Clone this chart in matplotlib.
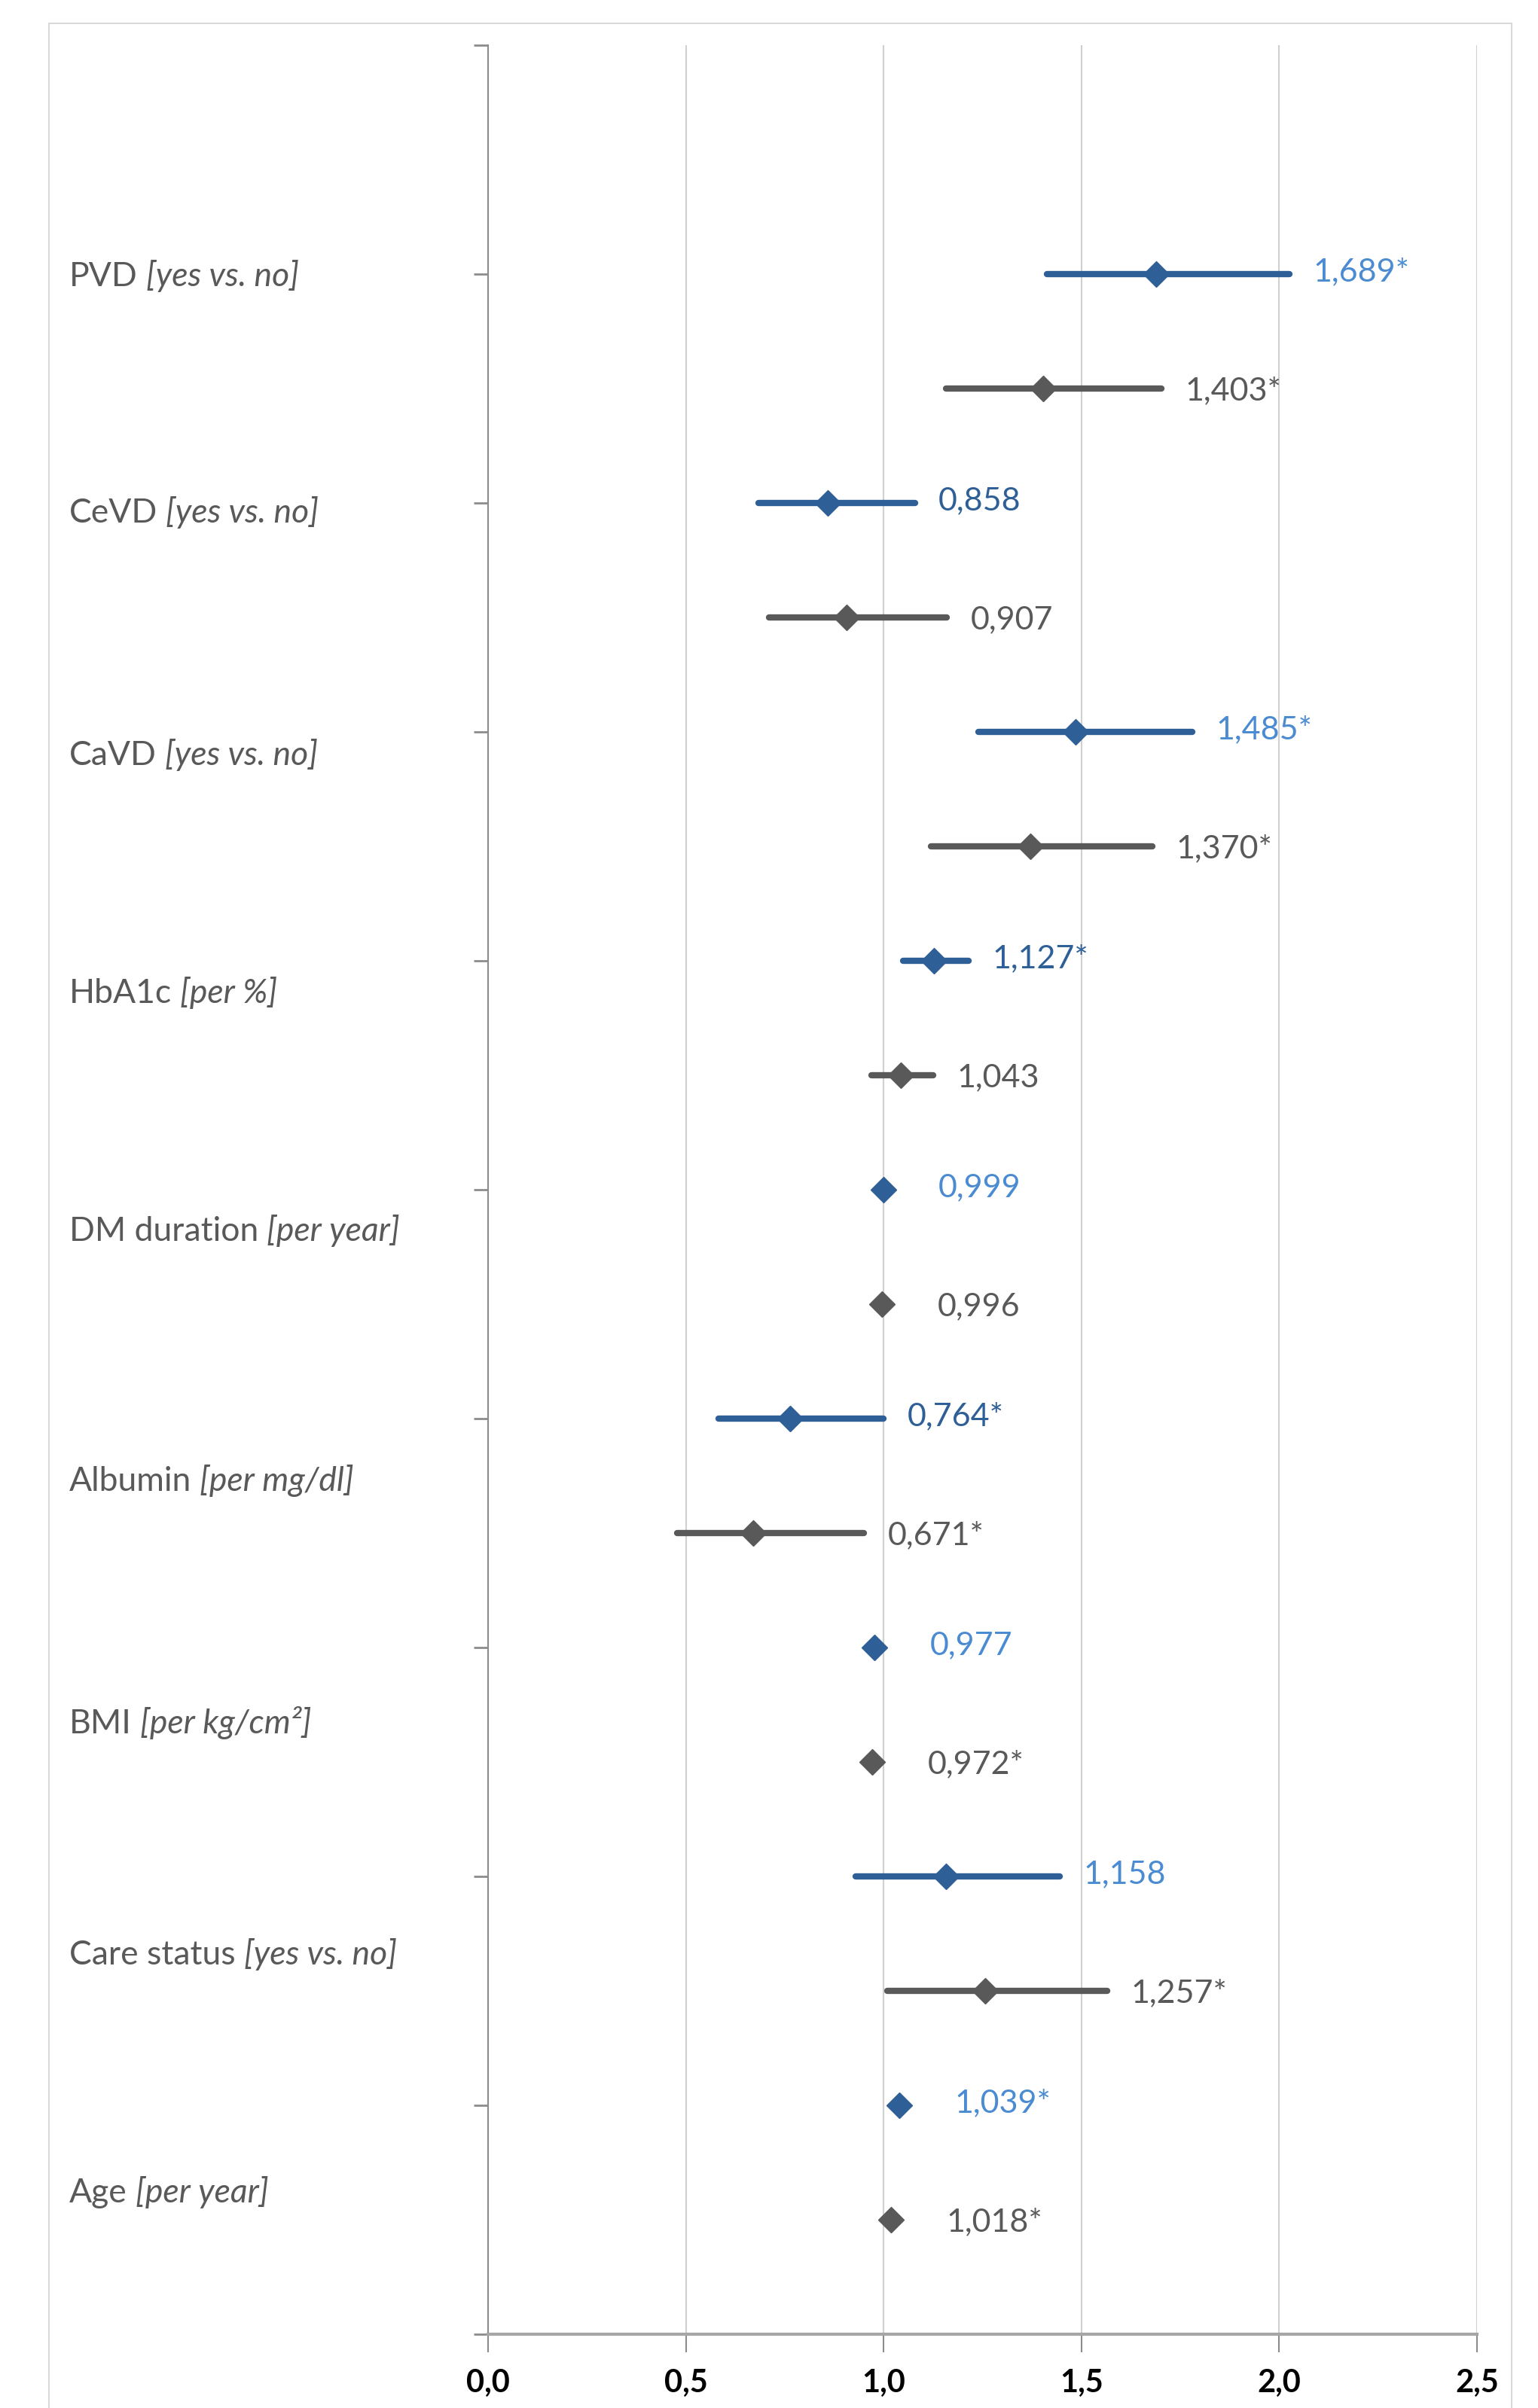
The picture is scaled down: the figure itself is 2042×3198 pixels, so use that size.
import numpy as np
import matplotlib.pyplot as plt
from matplotlib.patches import Rectangle
from matplotlib.transforms import blended_transform_factory

plt.rcParams['font.family'] = ['Lato', 'DejaVu Sans']

# categories, top to bottom
names = ['PVD', 'CeVD', 'CaVD', 'HbA1c', 'DM duration', 'Albumin', 'BMI', 'Care status', 'Age']
units = ['[yes vs. no]', '[yes vs. no]', '[yes vs. no]', '[per %]', '[per year]',
         '[per mg/dl]', '[per kg/cm²]', '[yes vs. no]', '[per year]']
label_y = [9.0, 7.97, 6.91, 5.87, 4.83, 3.74, 2.68, 1.67, 0.63]

# first series (blue)
blue_val = [1.689, 0.858, 1.485, 1.127, 0.999, 0.764, 0.977, 1.158, 1.039]
blue_lo = [1.412, 0.683, 1.240, 1.050, 0.998, 0.582, 0.965, 0.930, 1.030]
blue_hi = [2.025, 1.079, 1.780, 1.215, 1.000, 1.000, 0.990, 1.445, 1.048]
blue_txt = ['1,689*', '0,858', '1,485*', '1,127*', '0,999', '0,764*', '0,977', '1,158', '1,039*']
blue_dark = [False, True, False, True, False, True, False, False, False]

# second series (grey)
grey_val = [1.403, 0.907, 1.370, 1.043, 0.996, 0.671, 0.972, 1.257, 1.018]
grey_lo = [1.157, 0.710, 1.120, 0.970, 0.994, 0.477, 0.960, 1.010, 1.010]
grey_hi = [1.702, 1.160, 1.680, 1.125, 0.998, 0.951, 0.985, 1.565, 1.025]
grey_txt = ['1,403*', '0,907', '1,370*', '1,043', '0,996', '0,671*', '0,972*', '1,257*', '1,018*']

xticks = [0.0, 0.5, 1.0, 1.5, 2.0, 2.5]

blue = '#2E5F97'
blue_light = '#4A8BD2'
grey = '#595959'

W, H = 2042, 3198
fig = plt.figure(figsize=(W / 100, H / 100), dpi=100)
fig.patches.append(Rectangle((65 / W, -0.05), (2007 - 65) / W, 1.05 - 31 / H,
                             transform=fig.transFigure, fill=False,
                             edgecolor='#D9D9D9', linewidth=1.5))

ax = fig.add_axes([648 / W, 1 - 3100 / H, (1961 - 648) / W, (3100 - 60) / H])

n = len(names)
yb = np.arange(n, 0, -1).astype(float)
yg = yb - 0.5

ax.hlines(yb, blue_lo, blue_hi, color=blue, linewidth=6, capstyle='round', zorder=3)
ax.hlines(yg, grey_lo, grey_hi, color=grey, linewidth=6, capstyle='round', zorder=3)
ax.plot(blue_val, yb, 'D', color=blue, markersize=17, linestyle='none', zorder=4)
ax.plot(grey_val, yg, 'D', color=grey, markersize=17, linestyle='none', zorder=4)

for i in range(n):
    c = blue if blue_dark[i] else blue_light
    ax.text(max(blue_hi[i] + 0.06, blue_val[i] + 0.14), yb[i] + 0.02, blue_txt[i],
            color=c, fontsize=31, va='center_baseline', ha='left')
    ax.text(max(grey_hi[i] + 0.06, grey_val[i] + 0.14), yg[i], grey_txt[i],
            color=grey, fontsize=31, va='center_baseline', ha='left')

trans = blended_transform_factory(fig.transFigure, ax.transData)
for i in range(n):
    t = ax.text(92 / W, label_y[i], names[i], transform=trans, fontsize=32,
                color=grey, va='center_baseline', ha='left')
    ax.annotate(units[i], xy=(1, 0), xycoords=t, xytext=(8, 0),
                textcoords='offset points', fontsize=32, color=grey,
                style='italic', va='bottom', ha='left')

ax.set_xlim(0, 2.5)
ax.set_ylim(0, 10)
ax.set_xticks(xticks)
ax.set_xticklabels([f'{v:.1f}'.replace('.', ',') for v in xticks],
                   fontsize=30, fontweight='bold', color='black')
ax.set_yticks(np.arange(0, 11))
ax.set_yticklabels([])
ax.grid(axis='x', color='#D0D0D0', linewidth=1.5, zorder=0)
ax.set_axisbelow(True)

for s in ['top', 'right']:
    ax.spines[s].set_visible(False)
ax.spines['left'].set_color('#8C8C8C')
ax.spines['left'].set_linewidth(1.5)
ax.spines['bottom'].set_color('#A6A6A6')
ax.spines['bottom'].set_linewidth(3)
ax.tick_params(axis='y', direction='out', length=14, width=2, color='#8C8C8C')
ax.tick_params(axis='x', direction='out', length=17, width=1.5, color='#8C8C8C', pad=16)

fig.savefig('out.png', dpi=100, facecolor='white')
